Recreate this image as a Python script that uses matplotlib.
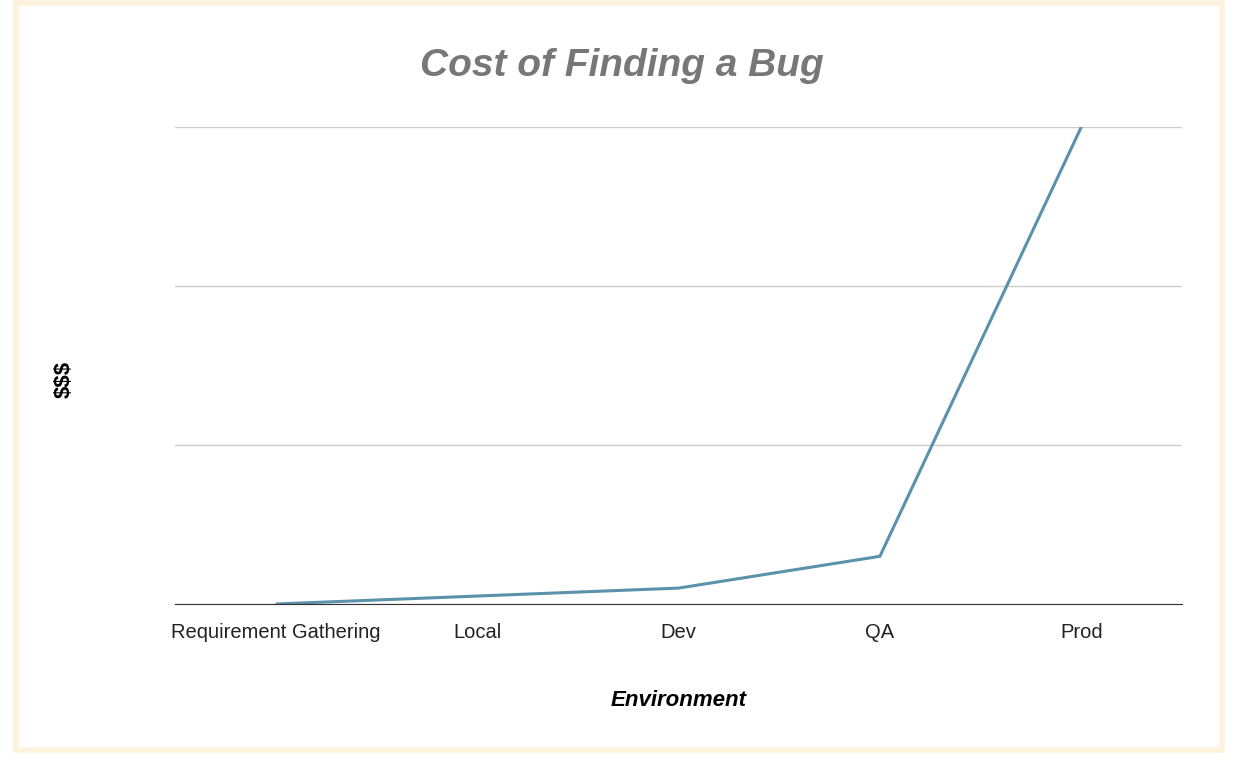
import matplotlib.pyplot as plt
from matplotlib.patches import Rectangle

plt.rcParams['font.family'] = ['Liberation Sans', 'DejaVu Sans']

environments = ['Requirement Gathering', 'Local', 'Dev', 'QA', 'Prod']
cost = [0, 0.5, 1, 3, 30]

fig = plt.figure(figsize=(12.4, 7.62), dpi=100)
fig.patch.set_facecolor('white')
# cream frame around the chart
fig.patches.append(Rectangle((0.0125, 0.016), 0.973, 0.98, transform=fig.transFigure,
                             fill=False, edgecolor='#fdf3dc', linewidth=4))

ax = fig.add_axes([175 / 1240, 1 - 604 / 762, (1182 - 175) / 1240, (604 - 127) / 762])
ax.plot(range(len(environments)), cost, color='#5b92ab', linewidth=2.2, solid_capstyle='butt')
ax.set_xlim(-0.5, 4.5)
ax.set_ylim(0, 30)
ax.set_yticks([0, 10, 20, 30])
ax.set_yticklabels([])
ax.yaxis.grid(True, color='#cccccc', linewidth=1)
ax.set_axisbelow(True)
ax.tick_params(length=0)
ax.set_xticks(range(len(environments)))
ax.set_xticklabels(environments, fontsize=14.5, color='#222222')
ax.tick_params(axis='x', pad=14)
for s in ['top', 'right', 'left']:
    ax.spines[s].set_visible(False)
ax.spines['bottom'].set_color('#333333')

ax.set_xlabel('Environment', fontsize=16, fontweight='bold', fontstyle='italic', labelpad=34)
ax.set_ylabel('$$$', fontsize=16, fontweight='bold', labelpad=0)
ax.yaxis.set_label_coords(-100 / 1007, 0.47)
fig.text(622 / 1240, 1 - 66 / 762, 'Cost of Finding a Bug', ha='center', va='center',
         fontsize=28, fontweight='bold', fontstyle='italic', color='#777777')

fig.savefig('out.png', dpi=100)
